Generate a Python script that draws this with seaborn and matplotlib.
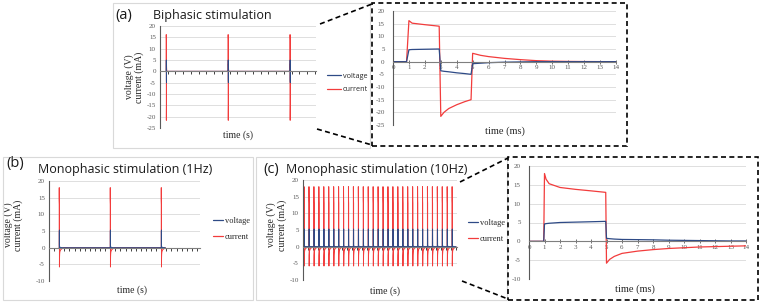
import numpy as np
import pandas as pd
import seaborn as sns
import matplotlib.pyplot as plt
from matplotlib.lines import Line2D
from matplotlib.patches import Rectangle

# biphasic pulse, detail view (time in ms)
bi_t = [0, 0.85, 1.0, 1.2, 2.0, 2.9, 3.0, 3.2, 3.5, 4.0, 4.5, 4.9, 5.0, 5.5, 6, 7, 8, 9, 10, 11, 12, 14]
bi_current = [0, 0, 16.2, 15.2, 14.6, 14.0, -21.6, -20.0, -18.5, -17.0, -15.8, -15.0,
              3.3, 2.5, 2.0, 1.3, 0.8, 0.4, 0.2, 0.1, 0.05, 0]
bi_voltage = [0, 0, 4.7, 4.8, 4.9, 5.0, -3.6, -3.8, -4.0, -4.4, -4.7, -5.0,
              -0.8, -0.6, -0.4, -0.2, -0.1, 0, 0, 0, 0, 0]

# monophasic pulse, detail view (time in ms)
mono_t = [0, 0.95, 1.0, 1.1, 1.3, 2, 3, 4, 4.95, 5.0, 5.2, 5.5, 6, 7, 8, 9, 10, 11, 12, 13, 14]
mono_current = [0, 0, 18.0, 16.5, 15.3, 14.3, 13.8, 13.4, 13.0, -5.8, -4.8, -4.0,
                -3.2, -2.6, -2.2, -1.9, -1.7, -1.5, -1.4, -1.3, -1.2]
mono_voltage = [0, 0, 4.6, 4.7, 4.8, 5.0, 5.1, 5.2, 5.3, 0.8, 0.7, 0.6,
                0.5, 0.45, 0.4, 0.3, 0.25, 0.2, 0.15, 0.1, 0.1]

# slow return of the monophasic pulse, seconds after onset
mono_tail_t = [0.03, 0.08]
mono_tail_current = [-0.6, 0.0]
mono_tail_voltage = [0.05, 0.0]

# pulse onsets of the long recordings (s)
onsets_a = [0.1, 1.1, 2.1]
onsets_b = [0.2, 1.2, 2.2]
onsets_c = [0.02, 0.12, 0.22, 0.32, 0.42, 0.52, 0.62, 0.72, 0.82, 0.92,
            1.02, 1.12, 1.22, 1.32, 1.42, 1.52, 1.62, 1.72, 1.82, 1.92,
            2.02, 2.12, 2.22, 2.32, 2.42, 2.52, 2.62, 2.72, 2.82, 2.92, 3.02]

RED = '#f23c3c'
BLUE = '#2e4a86'
W, H = 760, 304

sns.set_style('white')
plt.rcParams['font.family'] = ['Liberation Serif', 'DejaVu Serif']
plt.rcParams['axes.unicode_minus'] = False


def pulse_train(onsets, t_ms, cur, volt, tail_t=(), tail_i=(), tail_v=()):
    rows = []
    for t0 in onsets:
        for t, i, v in zip(t_ms, cur, volt):
            rows.append((t0 + t / 1000, i, v))
        for t, i, v in zip(tail_t, tail_i, tail_v):
            rows.append((t0 + t, i, v))
    return pd.DataFrame(rows, columns=['time', 'current', 'voltage'])


def rect(x0, y0, x1, y1):
    return [x0 / W, 1 - y1 / H, (x1 - x0) / W, (y1 - y0) / H]


def draw(ax, df, ylim, xlim, xticks, ms):
    lw = 0.9 if ms else 0.7
    sns.lineplot(data=df, x='time', y='current', color=RED, lw=lw,
                 estimator=None, sort=False, ax=ax)
    sns.lineplot(data=df, x='time', y='voltage', color=BLUE, lw=lw,
                 estimator=None, sort=False, ax=ax)
    ax.set_xlim(xlim)
    ax.set_ylim(ylim)
    ax.set_yticks(np.arange(ylim[0], ylim[1] + 1, 5))
    ax.set_xticks(xticks)
    ax.grid(axis='y', color='#d9d9d9', lw=0.6)
    ax.grid(axis='x', visible=False)
    ax.set_axisbelow(True)
    ax.patch.set_alpha(0)
    for s in ['top', 'right']:
        ax.spines[s].set_visible(False)
    ax.spines['bottom'].set_position(('data', 0))
    ax.spines['bottom'].set_color('#7f7f7f')
    ax.spines['bottom'].set_linewidth(0.8)
    ax.spines['left'].set_color('#595959')
    ax.spines['left'].set_linewidth(0.8)
    ax.tick_params(axis='y', length=0, labelsize=5, pad=3 if not ms else 6,
                   labelcolor='#595959')
    if ms:
        ax.tick_params(axis='x', bottom=True, direction='inout', length=2.5, width=0.6,
                       color='#595959', labelsize=5, pad=1.5, labelcolor='#595959')
        ax.set_xlabel('time (ms)', fontsize=7.5, color='#262626')
        ax.set_ylabel('')
    else:
        ax.tick_params(axis='x', bottom=True, direction='out', length=2.5, width=0.7,
                       color='#404040', labelbottom=False)
        ax.set_xlabel('time (s)', fontsize=7, color='#262626')
        ax.set_ylabel('voltage (V)\ncurrent (mA)', fontsize=7, color='#262626',
                      linespacing=1.1)


fig = plt.figure(figsize=(7.6, 3.04), dpi=100)

# panel frames
for x0, y0, x1, y1 in [(113, 3, 370, 148), (3, 157, 253, 300), (256, 157, 507, 300)]:
    fig.add_artist(Rectangle((x0 / W, 1 - y1 / H), (x1 - x0) / W, (y1 - y0) / H,
                             transform=fig.transFigure, fill=False,
                             edgecolor='#d9d9d9', lw=0.8))

# (a) biphasic, long view
ax_a = fig.add_axes(rect(160, 26, 316, 128))
draw(ax_a, pulse_train(onsets_a, bi_t, bi_current, bi_voltage),
     (-25, 20), (0, 2.52), np.arange(0, 2.52, 0.125), False)
ax_a.xaxis.set_label_coords(0.5, -0.02)
ax_a.yaxis.set_label_coords(-0.1, 0.5)

# (a) detail
ax_az = fig.add_axes(rect(393, 11, 616, 125))
draw(ax_az, pd.DataFrame({'time': bi_t, 'current': bi_current, 'voltage': bi_voltage}),
     (-25, 20), (0, 14), range(0, 15), True)
ax_az.xaxis.set_label_coords(0.5, -0.01)

# (b) monophasic 1 Hz
ax_b = fig.add_axes(rect(49, 181, 200, 281))
draw(ax_b, pulse_train(onsets_b, mono_t, mono_current, mono_voltage,
                       mono_tail_t, mono_tail_current, mono_tail_voltage),
     (-10, 20), (0, 2.96), np.arange(0, 2.96, 0.1), False)
ax_b.xaxis.set_label_coords(0.55, -0.04)
ax_b.yaxis.set_label_coords(-0.17, 0.56)

# (c) monophasic 10 Hz
ax_c = fig.add_axes(rect(303, 180, 457, 280))
draw(ax_c, pulse_train(onsets_c, mono_t, mono_current, mono_voltage,
                       mono_tail_t, mono_tail_current, mono_tail_voltage),
     (-10, 20), (0, 3.12), np.arange(0, 3.12, 0.1), False)
ax_c.xaxis.set_label_coords(0.53, -0.06)
ax_c.yaxis.set_label_coords(-0.105, 0.55)

# (c) detail
ax_cz = fig.add_axes(rect(529, 166, 746, 279))
draw(ax_cz, pd.DataFrame({'time': mono_t, 'current': mono_current, 'voltage': mono_voltage}),
     (-10, 20), (0, 14), range(0, 15), True)
ax_cz.xaxis.set_label_coords(0.49, -0.05)

# titles
sans = ['Open Sans', 'DejaVu Sans']
for lab, x, y in [('(a)', 115, 16), ('(b)', 6, 164), ('(c)', 263, 169)]:
    fig.text(x / W, 1 - y / H, lab, fontsize=10.5, family=sans, va='center', color='#1a1a1a')
for txt, x, y in [('Biphasic stimulation', 153, 16),
                  ('Monophasic stimulation (1Hz)', 38, 170),
                  ('Monophasic stimulation (10Hz)', 286, 170)]:
    fig.text(x / W, 1 - y / H, txt, fontsize=9, family=sans, va='center', color='#1a1a1a')

# legends
handles = [Line2D([], [], color=BLUE, lw=0.9), Line2D([], [], color=RED, lw=0.9)]
for x, y, hl, fam, fs in [(327, 83, 2.0, sans, 5.2),
                          (213, 229, 1.2, ['Liberation Serif'], 6),
                          (468, 231, 1.2, ['Liberation Serif'], 6)]:
    fig.legend(handles, ['voltage', 'current'], loc='center left',
               bbox_to_anchor=(x / W, 1 - y / H), frameon=False, borderpad=0,
               borderaxespad=0, handlelength=hl, handletextpad=0.2,
               labelspacing=0.9, prop={'family': fam, 'size': fs})

# zoom boxes and connectors
dash = dict(color='black', lw=1.2, ls=(0, (3, 2)), transform=fig.transFigure)
for x0, y0, x1, y1 in [(372, 3, 627, 146), (508, 157, 758, 300)]:
    fig.add_artist(Rectangle((x0 / W, 1 - y1 / H), (x1 - x0) / W, (y1 - y0) / H,
                             fill=False, edgecolor='black', lw=1.2, ls=(0, (3, 2)),
                             transform=fig.transFigure))
for (x0, y0), (x1, y1) in [((320, 24), (372, 4)), ((317, 129), (372, 145)),
                           ((460, 182), (508, 158)), ((462, 281), (508, 299))]:
    fig.add_artist(Line2D([x0 / W, x1 / W], [1 - y0 / H, 1 - y1 / H], **dash))

fig.savefig('out.png', dpi=100)
